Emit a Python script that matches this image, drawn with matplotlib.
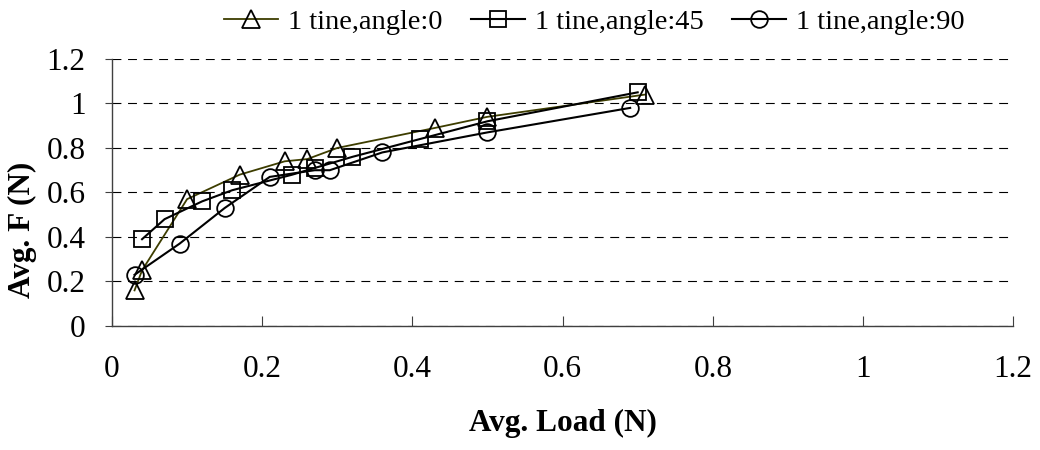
import matplotlib.pyplot as plt

plt.rcParams['font.family'] = ['Liberation Serif', 'DejaVu Serif']

# Avg. Load (N) vs Avg. F (N) for each tine angle
load_0 = [0.03, 0.04, 0.10, 0.17, 0.23, 0.26, 0.30, 0.43, 0.50, 0.71]
force_0 = [0.16, 0.25, 0.57, 0.68, 0.74, 0.75, 0.80, 0.89, 0.94, 1.04]

load_45 = [0.04, 0.07, 0.12, 0.16, 0.24, 0.27, 0.32, 0.41, 0.50, 0.70]
force_45 = [0.39, 0.48, 0.56, 0.61, 0.68, 0.71, 0.76, 0.84, 0.92, 1.05]

load_90 = [0.03, 0.09, 0.15, 0.21, 0.27, 0.29, 0.36, 0.50, 0.69]
force_90 = [0.23, 0.37, 0.53, 0.67, 0.70, 0.70, 0.78, 0.87, 0.98]

labels = ['1 tine,angle:0', '1 tine,angle:45', '1 tine,angle:90']
ticks = [0, 0.2, 0.4, 0.6, 0.8, 1, 1.2]
tick_labels = ['0', '0.2', '0.4', '0.6', '0.8', '1', '1.2']

fig = plt.figure(figsize=(10.4, 4.5), dpi=100)
ax = fig.add_axes([0.1077, 0.2756, 0.8665, 0.5934])

ax.plot(load_0, force_0, color='#3d3d00', lw=1.3, marker='^', ms=13,
        mfc='none', mec='black', mew=1.3, label=labels[0])
ax.plot(load_45, force_45, color='black', lw=1.5, marker='s', ms=12,
        mfc='none', mec='black', mew=1.3, label=labels[1])
ax.plot(load_90, force_90, color='black', lw=1.5, marker='o', ms=12,
        mfc='none', mec='black', mew=1.3, label=labels[2])

ax.set_xlim(0, 1.2)
ax.set_ylim(0, 1.2)
ax.set_xticks(ticks)
ax.set_xticklabels(tick_labels)
ax.set_yticks(ticks)
ax.set_yticklabels(tick_labels)

ax.grid(True, axis='y', color='black', linestyle=(0, (8, 6)), linewidth=0.8)
ax.set_axisbelow(True)

for s in ['top', 'right']:
    ax.spines[s].set_visible(False)
for s in ['left', 'bottom']:
    ax.spines[s].set_color('#404040')
    ax.spines[s].set_linewidth(1.0)

ax.tick_params(axis='x', direction='in', length=7, pad=21, labelsize=22.5,
               color='#404040')
ax.tick_params(axis='y', direction='out', length=5, pad=14, labelsize=22.5,
               color='#404040')

ax.set_xlabel('Avg. Load (N)', fontsize=22.5, fontweight='bold')
ax.xaxis.set_label_coords(0.5, -0.31)
ax.set_ylabel('Avg. F (N)', fontsize=22.5, fontweight='bold')
ax.yaxis.set_label_coords(-0.083, 0.36)

ax.legend(loc='center', bbox_to_anchor=(0.535, 1.14), ncol=3, frameon=False,
          fontsize=20.5, handlelength=1.9, handletextpad=0.35, columnspacing=1.0,
          borderaxespad=0)

fig.savefig('out.png', dpi=100)
